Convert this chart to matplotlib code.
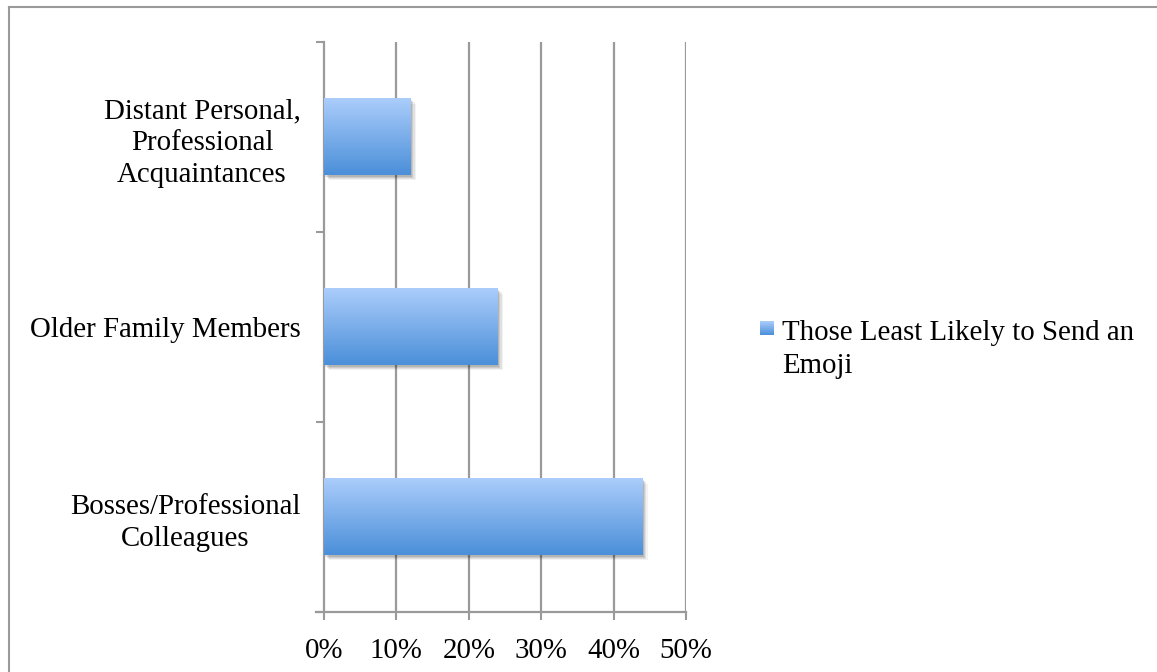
import numpy as np
import matplotlib
matplotlib.use("Agg")
import matplotlib.pyplot as plt
from matplotlib.patches import Rectangle
from matplotlib.lines import Line2D
from matplotlib.colors import LinearSegmentedColormap
import matplotlib.transforms as mtransforms

categories = ["Bosses/Professional\nColleagues", "Older Family Members",
              "Distant Personal,\nProfessional\nAcquaintances"]
values = [0.44, 0.24, 0.12]
tick_labels = ["0%", "10%", "20%", "30%", "40%", "50%"]
series_name = "Those Least Likely to Send an\nEmoji"

FONT = ["Liberation Serif", "DejaVu Serif"]
plt.rcParams['font.family'] = FONT
FS = 20.8

W, H = 1157, 672
fig = plt.figure(figsize=(W / 100, H / 100), dpi=100)
fig.patch.set_facecolor("white")

# frame lines (top and left) of the chart area
fig.add_artist(Line2D([9 / W, 1.0], [1 - 7 / H, 1 - 7 / H], color="#9a9a9a", lw=1.5,
                      transform=fig.transFigure))
fig.add_artist(Line2D([9 / W, 9 / W], [0.0, 1 - 7 / H], color="#9a9a9a", lw=1.5,
                      transform=fig.transFigure))

left, right, top, bottom = 324, 686, 42, 612
ax = fig.add_axes([left / W, 1 - bottom / H, (right - left) / W, (bottom - top) / H])

grad_cmap = LinearSegmentedColormap.from_list("g", ["#4b8fd9", "#abcdfb"])
grad = np.linspace(0, 1, 256).reshape(-1, 1)

bar_h = 0.405
ypos = np.arange(len(categories))
for y, v in zip(ypos, values):
    # soft shadow
    for k, a in zip(range(4, 0, -1), [0.05, 0.07, 0.09, 0.11]):
        off = mtransforms.offset_copy(ax.transData, fig=fig, x=k * 0.9, y=-k * 0.9, units="points")
        ax.add_patch(Rectangle((0, y - bar_h / 2), v, bar_h, transform=off,
                               facecolor="black", alpha=a, edgecolor="none", zorder=2))
    ax.imshow(grad, cmap=grad_cmap, aspect="auto", origin="lower",
              extent=[0, v, y - bar_h / 2, y + bar_h / 2], zorder=3, interpolation="bilinear")

ax.set_xlim(0, 0.5)
ax.set_ylim(-0.5, len(categories) - 0.5)

xt = np.linspace(0, 0.5, len(tick_labels))
ax.set_xticks(xt)
ax.set_xticklabels(tick_labels, fontsize=FS)
ax.set_yticks(ypos)
ax.set_yticklabels(categories, fontsize=FS, multialignment="center", linespacing=1.29)
ax.set_yticks(np.arange(-0.5, len(categories)), minor=True)
ax.tick_params(axis="y", which="major", length=0, pad=17)
ax.tick_params(axis="y", which="minor", length=6, width=1.5, color="#9a9a9a", direction="out")
ax.tick_params(axis="x", which="major", length=6, width=1.5, color="#9a9a9a", direction="out", pad=12.5)

for xv in xt[1:]:
    ax.axvline(xv, color="#9a9a9a", lw=1.6, zorder=1)

for s in ["top", "right"]:
    ax.spines[s].set_visible(False)
for s in ["left", "bottom"]:
    ax.spines[s].set_color("#9a9a9a")
    ax.spines[s].set_linewidth(1.6)
ax.spines["bottom"].set_bounds(-0.011, 0.5)

# legend
lax = fig.add_axes([760 / W, 1 - 335 / H, 14 / W, 14 / H])
lax.imshow(grad, cmap=grad_cmap, aspect="auto", origin="lower", extent=[0, 1, 0, 1])
lax.set_axis_off()
fig.text(782 / W, 1 - 319.5 / H, series_name, fontsize=FS, va="top", ha="left",
         linespacing=1.38)

fig.savefig("out.png", dpi=100)
